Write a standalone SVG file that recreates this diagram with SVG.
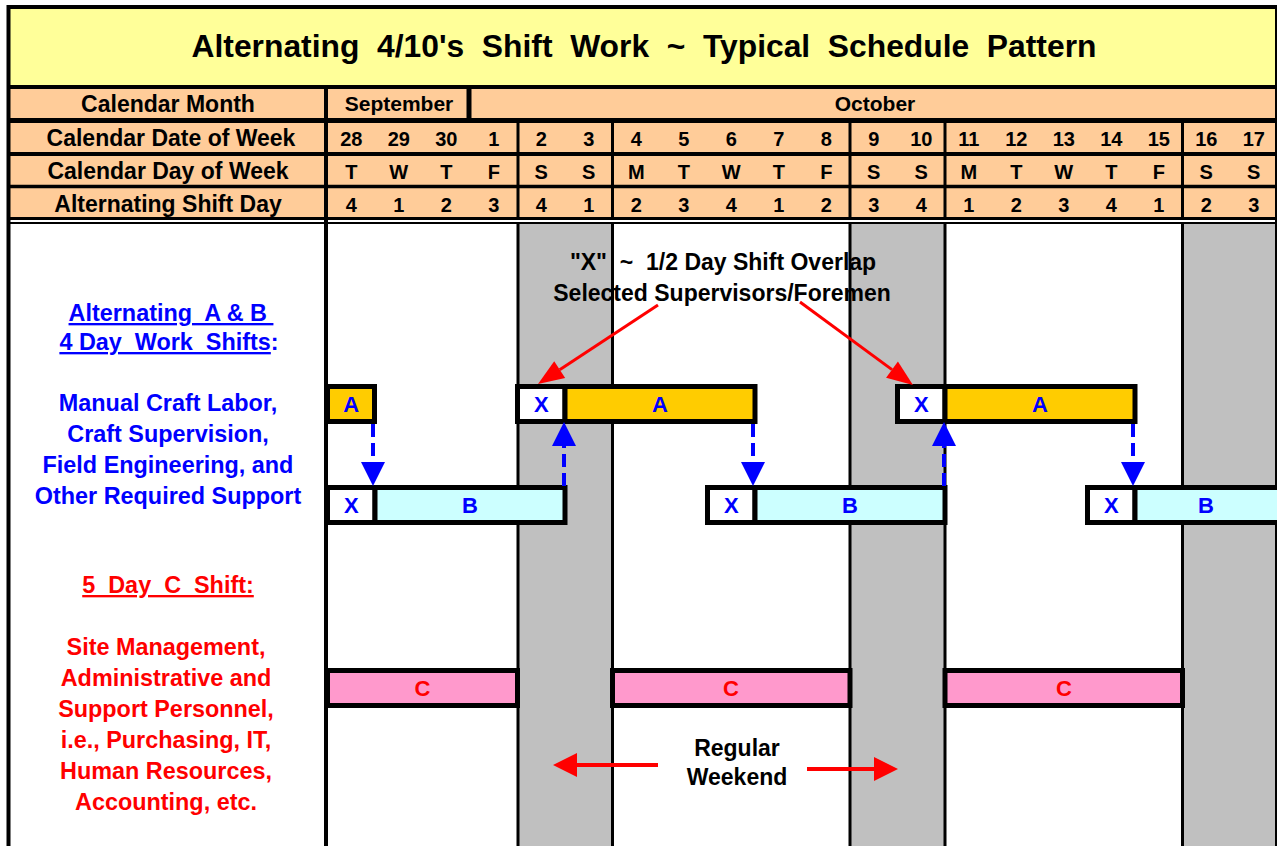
<svg xmlns="http://www.w3.org/2000/svg" width="1277" height="846" viewBox="0 0 1277 846">
<style>
text{font-family:"Liberation Sans",Arial,sans-serif;font-weight:bold;white-space:pre}
.title{font-size:31.8px;fill:#000;text-anchor:middle}
.hl{font-size:23px;text-anchor:middle}
.hm{font-size:21px;text-anchor:middle}
.hd{font-size:20px;text-anchor:middle}
.bar{stroke:#000;stroke-width:5}
.a{fill:#FFCC00}.b{fill:#CCFFFF}.c{fill:#FF99CC}.x{fill:#FFFFFF}
.bt{font-size:22px;fill:#0000FF;text-anchor:middle}
.ct{font-size:22px;fill:#FF0000;text-anchor:middle}
.grid{stroke:#000;stroke-width:3;fill:none}
.hline{stroke:#000;fill:none}
.note{font-size:23px;fill:#000;text-anchor:middle}
.blue{font-size:23.4px;fill:#0000FF;text-anchor:middle}
.red{font-size:23.4px;fill:#FF0000;text-anchor:middle}
.dash{stroke:#0000FF;stroke-width:4;stroke-dasharray:13 6;fill:none}
.rarr{stroke:#FF0000;fill:none}
</style>
<defs>
<marker id="redHead" markerUnits="userSpaceOnUse" markerWidth="26" markerHeight="20" refX="0" refY="10" orient="auto" overflow="visible"><path d="M0,0 L26,10 L0,20 z" fill="#FF0000"/></marker>
<marker id="redHead2" markerUnits="userSpaceOnUse" markerWidth="24" markerHeight="24" refX="0" refY="12" orient="auto" overflow="visible"><path d="M0,0 L24,12 L0,24 z" fill="#FF0000"/></marker>
<marker id="blueHead" markerUnits="userSpaceOnUse" markerWidth="24" markerHeight="24" refX="0" refY="12" orient="auto" overflow="visible"><path d="M0,0 L24,12 L0,24 z" fill="#0000FF"/></marker>
</defs>

<g id="backgrounds">
<rect x="0" y="0" width="1277" height="846" fill="#FFFFFF"/>
<rect x="8" y="7" width="1270" height="80" fill="#FFFF99"/>
<rect x="8" y="87" width="1270" height="132" fill="#FFCC99"/>
<rect x="518" y="224" width="94.5" height="622" fill="#C0C0C0"/>
<rect x="850" y="224" width="95" height="622" fill="#C0C0C0"/>
<rect x="1182.5" y="224" width="95" height="622" fill="#C0C0C0"/>
</g>

<g id="title">
<text class="title" x="644" y="57">Alternating  4/10's  Shift  Work  ~  Typical  Schedule  Pattern</text>
</g>

<g id="header-labels">
<text class="hl" x="168" y="112">Calendar Month</text>
<text class="hl" x="171" y="146">Calendar Date of Week</text>
<text class="hl" x="168" y="179">Calendar Day of Week</text>
<text class="hl" x="168" y="212">Alternating Shift Day</text>
</g>

<g id="header-months">
<text class="hm" x="399" y="111">September</text>
<text class="hm" x="875" y="111">October</text>
</g>

<g id="header-dates">
<text class="hd" y="146"><tspan x="351.25">28</tspan><tspan x="398.75">29</tspan><tspan x="446.25">30</tspan><tspan x="493.75">1</tspan><tspan x="541.25">2</tspan><tspan x="588.75">3</tspan><tspan x="636.25">4</tspan><tspan x="683.75">5</tspan><tspan x="731.25">6</tspan><tspan x="778.75">7</tspan><tspan x="826.25">8</tspan><tspan x="873.75">9</tspan><tspan x="921.25">10</tspan><tspan x="968.75">11</tspan><tspan x="1016.25">12</tspan><tspan x="1063.75">13</tspan><tspan x="1111.25">14</tspan><tspan x="1158.75">15</tspan><tspan x="1206.25">16</tspan><tspan x="1253.75">17</tspan></text>
</g>
<g id="header-days">
<text class="hd" y="179" x="351.25 398.75 446.25 493.75 541.25 588.75 636.25 683.75 731.25 778.75 826.25 873.75 921.25 968.75 1016.25 1063.75 1111.25 1158.75 1206.25 1253.75">TWTFSSMTWTFSSMTWTFSS</text>
</g>
<g id="header-shiftdays">
<text class="hd" y="212" x="351.25 398.75 446.25 493.75 541.25 588.75 636.25 683.75 731.25 778.75 826.25 873.75 921.25 968.75 1016.25 1063.75 1111.25 1158.75 1206.25 1253.75">41234123412341234123</text>
</g>

<g id="note-overlap">
<text class="note" x="723" y="270">"X"  ~  1/2 Day Shift Overlap</text>
<text class="note" x="722" y="301">Selected Supervisors/Foremen</text>
</g>

<g id="label-ab">
<text class="blue" x="171" y="321"><tspan text-decoration="underline">Alternating  A &amp; B </tspan></text>
<text class="blue" x="169" y="350"><tspan text-decoration="underline">4 Day  Work  Shifts</tspan>:</text>
<text class="blue" x="168" y="411">Manual Craft Labor,</text>
<text class="blue" x="168" y="442">Craft Supervision,</text>
<text class="blue" x="168" y="473">Field Engineering, and</text>
<text class="blue" x="168" y="504">Other Required Support</text>
</g>

<g id="label-c">
<text class="red" x="168" y="593"><tspan text-decoration="underline">5  Day  C  Shift:</tspan></text>
<text class="red" x="166" y="655">Site Management,</text>
<text class="red" x="166" y="686">Administrative and</text>
<text class="red" x="166" y="717">Support Personnel,</text>
<text class="red" x="166" y="748">i.e., Purchasing, IT,</text>
<text class="red" x="166" y="779">Human Resources,</text>
<text class="red" x="166" y="810">Accounting, etc.</text>
</g>

<g id="note-weekend">
<text class="note" x="737" y="756">Regular</text>
<text class="note" x="737" y="785">Weekend</text>
</g>

<g id="grid">
<path class="hline" stroke-width="4" d="M8,7 H1277"/>
<path class="hline" stroke-width="4" d="M8,87 H1277"/>
<path class="hline" stroke-width="5" d="M8,120.5 H1277"/>
<path class="hline" stroke-width="4" d="M8,154 H1277"/>
<path class="hline" stroke-width="3.5" d="M8,186.5 H1277"/>
<path class="hline" stroke-width="3" d="M8,218.5 H1277"/>
<path class="hline" stroke-width="2" d="M8,223 H1277"/>
<path class="hline" stroke-width="4" d="M8.5,5 V846"/>
<path class="hline" stroke-width="3" d="M1276.5,5 V846"/>
<path class="hline" stroke-width="4" d="M326,87 V846"/>
<path class="hline" stroke-width="5" d="M469,87 V120"/>
<path class="grid" d="M518,120 V218 M518,223 V846"/>
<path class="grid" d="M612.5,120 V218 M612.5,223 V846"/>
<path class="grid" d="M850,120 V218 M850,223 V846"/>
<path class="grid" d="M945,120 V218 M945,223 V846"/>
<path class="grid" d="M1182.5,120 V218 M1182.5,223 V846"/>
</g>

<g id="shift-a1">
<rect class="bar a" x="327.5" y="386.5" width="47" height="35"/>
<text class="bt" x="351.25" y="412">A</text>
</g>
<g id="shift-a2">
<rect class="bar x" x="517.5" y="386.5" width="47.5" height="35"/>
<rect class="bar a" x="565" y="386.5" width="190" height="35"/>
<text class="bt" x="541.25" y="412">X</text>
<text class="bt" x="660" y="412">A</text>
</g>
<g id="shift-a3">
<rect class="bar x" x="897.5" y="386.5" width="47.5" height="35"/>
<rect class="bar a" x="945" y="386.5" width="190" height="35"/>
<text class="bt" x="921.25" y="412">X</text>
<text class="bt" x="1040" y="412">A</text>
</g>
<g id="shift-b1">
<rect class="bar x" x="327.5" y="487.5" width="47.5" height="35"/>
<rect class="bar b" x="375" y="487.5" width="190" height="35"/>
<text class="bt" x="351.25" y="513">X</text>
<text class="bt" x="470" y="513">B</text>
</g>
<g id="shift-b2">
<rect class="bar x" x="707.5" y="487.5" width="47.5" height="35"/>
<rect class="bar b" x="755" y="487.5" width="190" height="35"/>
<text class="bt" x="731.25" y="513">X</text>
<text class="bt" x="850" y="513">B</text>
</g>
<g id="shift-b3">
<rect class="bar x" x="1087.5" y="487.5" width="47.5" height="35"/>
<rect class="bar b" x="1135" y="487.5" width="150" height="35"/>
<text class="bt" x="1111.25" y="513">X</text>
<text class="bt" x="1206" y="513">B</text>
</g>
<g id="shift-c1">
<rect class="bar c" x="327.5" y="670.5" width="190" height="35"/>
<text class="ct" x="422.5" y="696">C</text>
</g>
<g id="shift-c2">
<rect class="bar c" x="612.5" y="670.5" width="237.5" height="35"/>
<text class="ct" x="731" y="696">C</text>
</g>
<g id="shift-c3">
<rect class="bar c" x="945" y="670.5" width="237.5" height="35"/>
<text class="ct" x="1064" y="696">C</text>
</g>

<g id="connectors">
<path class="dash" d="M373,424 V462" marker-end="url(#blueHead)"/>
<path class="dash" d="M564,486 V446" marker-end="url(#blueHead)"/>
<path class="dash" d="M753,424 V462" marker-end="url(#blueHead)"/>
<path class="dash" d="M944,486 V446" marker-end="url(#blueHead)"/>
<path class="dash" d="M1133,424 V462" marker-end="url(#blueHead)"/>
<path class="rarr" stroke-width="3" d="M658,305 L559.7,369.7" marker-end="url(#redHead)"/>
<path class="rarr" stroke-width="3" d="M800,302 L892,369.6" marker-end="url(#redHead)"/>
<path class="rarr" stroke-width="4" d="M658,765 H577" marker-end="url(#redHead2)"/>
<path class="rarr" stroke-width="4" d="M807,769 H874" marker-end="url(#redHead2)"/>
</g>
</svg>
